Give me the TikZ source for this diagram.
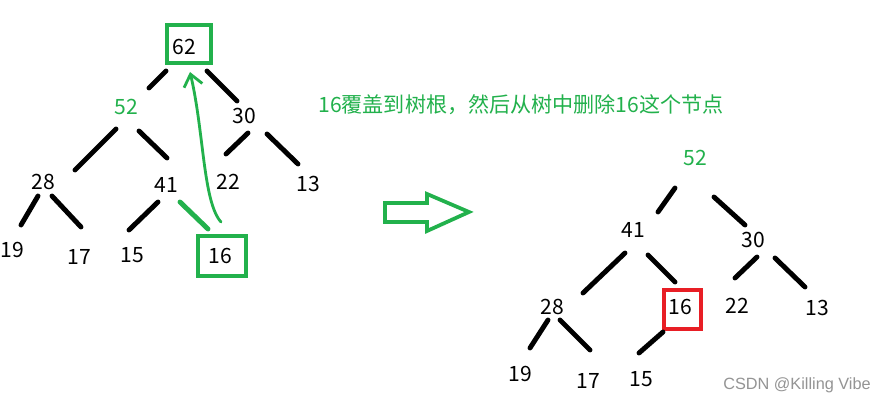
\documentclass[tikz,border=0pt]{standalone}
\usepackage{fontspec}
\setmainfont{Noto Sans CJK SC}
\newfontfamily\wmfont{Liberation Sans}
\usetikzlibrary{calc,arrows.meta}
\definecolor{pgreen}{HTML}{22B14C}
\definecolor{pred}{HTML}{E81E25}
\begin{document}
\begin{tikzpicture}[x=0.03cm,y=-0.03cm,
  num/.style={inner sep=0pt,font=\fontsize{18}{20}\selectfont},
  edge/.style={line width=4.2pt,line cap=round,black},
  gedge/.style={line width=4.2pt,line cap=round,pgreen},
  gbox/.style={draw=pgreen,line width=3.6pt,inner sep=0pt,outer sep=0pt},
  rbox/.style={draw=pred,line width=3.6pt,inner sep=0pt,outer sep=0pt}]
\useasboundingbox[fill=white] (0,0) rectangle (886,403);
% left tree
\node[num] (L62) at (184,47) {62};
\node[num,text=pgreen] (L52) at (126,107) {52};
\node[num] (L30) at (244,116) {30};
\node[num] (L28) at (43,182) {28};
\node[num] (L41) at (166,185) {41};
\node[num] (L22) at (228,182) {22};
\node[num] (L13) at (308,184) {13};
\node[num] (L19) at (12,250) {19};
\node[num] (L17) at (79,257) {17};
\node[num] (L15) at (132,255) {15};
\node[num] (L16) at (220,256) {16};
\node[gbox,minimum width=1.32cm,minimum height=1.14cm] (B62) at (189,44) {};
\node[gbox,minimum width=1.44cm,minimum height=1.2cm] (B16) at (222,256) {};
\draw[edge] ($(L62)+(-18,24)$) -- ($(L52)+(23,-19)$);
\draw[edge] ($(L62)+(23,24)$) -- ($(L30)+(-7,-15)$);
\draw[edge] ($(L52)+(-10,22)$) -- ($(L28)+(32,-12)$);
\draw[edge] ($(L52)+(13,24)$) -- ($(L41)+(1,-27)$);
\draw[edge] ($(L30)+(4,17)$) -- ($(L22)+(-2,-28)$);
\draw[edge] ($(L30)+(23,18)$) -- ($(L13)+(-10,-20)$);
\draw[edge] ($(L28)+(-5,14)$) -- ($(L19)+(9,-25)$);
\draw[edge] ($(L28)+(9,14)$) -- ($(L17)+(2,-30)$);
\draw[edge] ($(L41)+(-8,17)$) -- ($(L15)+(-3,-25)$);
\draw[gedge] ($(L41)+(14,17)$) -- ($(L16)+(-12,-27)$);
% curved arrow
\coordinate (cs) at ($(B16.north)+(-1,-14)$);
\coordinate (ce) at ($(B62.south)+(1,9)$);
\draw[pgreen,line width=2.4pt,line cap=round,-{Straight Barb[length=10pt,width=16pt,line width=2.4pt]}]
  (cs) .. controls ($(cs)+(-18,-20)$) and ($(ce)+(14,60)$) .. (ce);
% text
\node[inner sep=0pt,text=pgreen,font=\fontsize{18}{20}\selectfont] (msg) at (521,105) {16覆盖到树根，然后从树中删除16这个节点};
% hollow arrow
\draw[pgreen,line width=3.2pt,line join=miter] (385,203) -- (427,203) -- (427,194) -- (469,212) -- (427,231) -- (427,222) -- (385,222) -- cycle;
% right tree
\node[num,text=pgreen] (R52) at (695,158) {52};
\node[num] (R41) at (633,230) {41};
\node[num] (R30) at (753,240) {30};
\node[num] (R28) at (552,307) {28};
\node[num] (R16) at (680,307) {16};
\node[num] (R22) at (737,306) {22};
\node[num] (R13) at (817,308) {13};
\node[num] (R19) at (520,374) {19};
\node[num] (R17) at (588,381) {17};
\node[num] (R15) at (641,379) {15};
\node[rbox,minimum width=1.11cm,minimum height=1.17cm] (RB16) at (682.5,309.5) {};
\draw[edge] ($(R52)+(-20,30)$) -- ($(R41)+(25,-18)$);
\draw[edge] ($(R52)+(19,39)$) -- ($(R30)+(-8,-15)$);
\draw[edge] ($(R41)+(-8,23)$) -- ($(R28)+(31,-14)$);
\draw[edge] ($(R41)+(15,25)$) -- ($(R16)+(-5,-25)$);
\draw[edge] ($(R30)+(4,17)$) -- ($(R22)+(-2,-28)$);
\draw[edge] ($(R30)+(22,18)$) -- ($(R13)+(-12,-21)$);
\draw[edge] ($(R28)+(-4,13)$) -- ($(R19)+(10,-26)$);
\draw[edge] ($(R28)+(8,13)$) -- ($(R17)+(2,-31)$);
\draw[edge] ($(R16)+(-17,25)$) -- ($(R15)+(-2,-26)$);
% watermark
\node[inner sep=0pt,text=black!42,font=\wmfont\fontsize{13.9}{16}\selectfont] (wm) at (797,385) {CSDN @Killing Vibe};
\end{tikzpicture}
\end{document}
